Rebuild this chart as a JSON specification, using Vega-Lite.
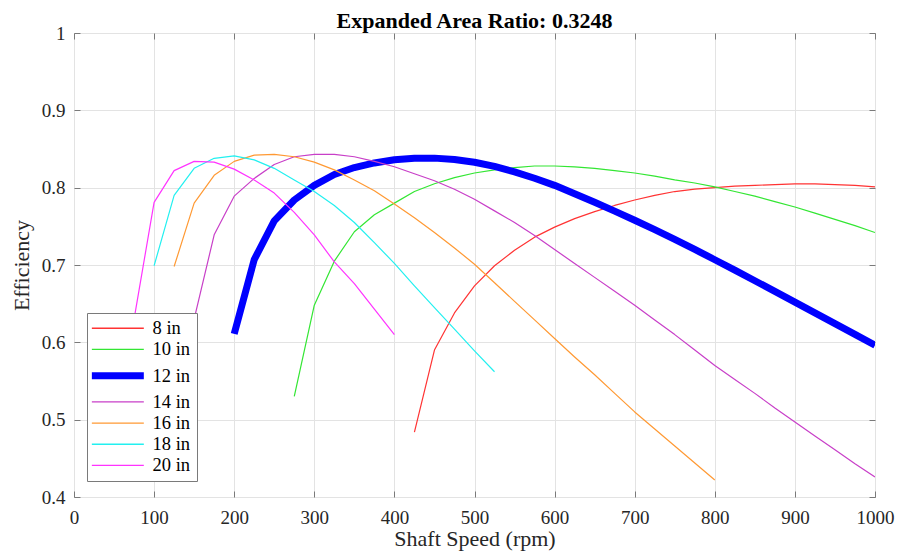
{
  "$schema": "https://vega.github.io/schema/vega-lite/v6.json",
  "width": 801,
  "height": 464,
  "autosize": {"type": "none"},
  "padding": {"left": 74, "top": 33, "right": 23, "bottom": 59},
  "background": "white",
  "config": {
    "font": "Liberation Serif",
    "view": {"stroke": "#7a7a7a", "strokeWidth": 1},
    "axis": {
      "labelFont": "Liberation Serif",
      "titleFont": "Liberation Serif",
      "labelFontSize": 19,
      "titleFontSize": 22,
      "labelColor": "#262626",
      "titleColor": "#262626",
      "titleFontWeight": "normal",
      "gridColor": "#e3e3e3",
      "gridWidth": 1,
      "tickColor": "#7a7a7a",
      "domain": false
    }
  },
  "title": {
    "text": "Expanded Area Ratio: 0.3248",
    "font": "Liberation Serif",
    "fontSize": 22,
    "fontWeight": "bold",
    "color": "#000000",
    "anchor": "middle",
    "offset": -9
  },
  "data": {
    "values": [
      {"d": "8 in", "rpm": 425, "eff": 0.484},
      {"d": "8 in", "rpm": 450, "eff": 0.590},
      {"d": "8 in", "rpm": 475, "eff": 0.638},
      {"d": "8 in", "rpm": 500, "eff": 0.673},
      {"d": "8 in", "rpm": 525, "eff": 0.699},
      {"d": "8 in", "rpm": 550, "eff": 0.719},
      {"d": "8 in", "rpm": 575, "eff": 0.736},
      {"d": "8 in", "rpm": 600, "eff": 0.749},
      {"d": "8 in", "rpm": 625, "eff": 0.760},
      {"d": "8 in", "rpm": 650, "eff": 0.769},
      {"d": "8 in", "rpm": 675, "eff": 0.777},
      {"d": "8 in", "rpm": 700, "eff": 0.784},
      {"d": "8 in", "rpm": 725, "eff": 0.790},
      {"d": "8 in", "rpm": 750, "eff": 0.795},
      {"d": "8 in", "rpm": 775, "eff": 0.798},
      {"d": "8 in", "rpm": 800, "eff": 0.800},
      {"d": "8 in", "rpm": 825, "eff": 0.802},
      {"d": "8 in", "rpm": 850, "eff": 0.803},
      {"d": "8 in", "rpm": 875, "eff": 0.804},
      {"d": "8 in", "rpm": 900, "eff": 0.805},
      {"d": "8 in", "rpm": 925, "eff": 0.805},
      {"d": "8 in", "rpm": 950, "eff": 0.804},
      {"d": "8 in", "rpm": 975, "eff": 0.803},
      {"d": "8 in", "rpm": 1000, "eff": 0.801},
      {"d": "10 in", "rpm": 275, "eff": 0.530},
      {"d": "10 in", "rpm": 300, "eff": 0.648},
      {"d": "10 in", "rpm": 325, "eff": 0.705},
      {"d": "10 in", "rpm": 350, "eff": 0.743},
      {"d": "10 in", "rpm": 375, "eff": 0.765},
      {"d": "10 in", "rpm": 400, "eff": 0.780},
      {"d": "10 in", "rpm": 425, "eff": 0.795},
      {"d": "10 in", "rpm": 450, "eff": 0.805},
      {"d": "10 in", "rpm": 475, "eff": 0.813},
      {"d": "10 in", "rpm": 500, "eff": 0.819},
      {"d": "10 in", "rpm": 525, "eff": 0.823},
      {"d": "10 in", "rpm": 550, "eff": 0.826},
      {"d": "10 in", "rpm": 575, "eff": 0.828},
      {"d": "10 in", "rpm": 600, "eff": 0.828},
      {"d": "10 in", "rpm": 625, "eff": 0.827},
      {"d": "10 in", "rpm": 650, "eff": 0.825},
      {"d": "10 in", "rpm": 675, "eff": 0.822},
      {"d": "10 in", "rpm": 700, "eff": 0.819},
      {"d": "10 in", "rpm": 725, "eff": 0.815},
      {"d": "10 in", "rpm": 750, "eff": 0.810},
      {"d": "10 in", "rpm": 775, "eff": 0.806},
      {"d": "10 in", "rpm": 800, "eff": 0.801},
      {"d": "10 in", "rpm": 825, "eff": 0.795},
      {"d": "10 in", "rpm": 850, "eff": 0.789},
      {"d": "10 in", "rpm": 875, "eff": 0.782},
      {"d": "10 in", "rpm": 900, "eff": 0.775},
      {"d": "10 in", "rpm": 925, "eff": 0.767},
      {"d": "10 in", "rpm": 950, "eff": 0.759},
      {"d": "10 in", "rpm": 975, "eff": 0.751},
      {"d": "10 in", "rpm": 1000, "eff": 0.742},
      {"d": "12 in", "rpm": 200, "eff": 0.611},
      {"d": "12 in", "rpm": 225, "eff": 0.707},
      {"d": "12 in", "rpm": 250, "eff": 0.757},
      {"d": "12 in", "rpm": 275, "eff": 0.784},
      {"d": "12 in", "rpm": 300, "eff": 0.803},
      {"d": "12 in", "rpm": 325, "eff": 0.817},
      {"d": "12 in", "rpm": 350, "eff": 0.826},
      {"d": "12 in", "rpm": 375, "eff": 0.832},
      {"d": "12 in", "rpm": 400, "eff": 0.836},
      {"d": "12 in", "rpm": 425, "eff": 0.838},
      {"d": "12 in", "rpm": 450, "eff": 0.8382},
      {"d": "12 in", "rpm": 475, "eff": 0.8364},
      {"d": "12 in", "rpm": 500, "eff": 0.8328},
      {"d": "12 in", "rpm": 525, "eff": 0.8275},
      {"d": "12 in", "rpm": 550, "eff": 0.8205},
      {"d": "12 in", "rpm": 575, "eff": 0.8122},
      {"d": "12 in", "rpm": 600, "eff": 0.8030},
      {"d": "12 in", "rpm": 625, "eff": 0.7922},
      {"d": "12 in", "rpm": 650, "eff": 0.7811},
      {"d": "12 in", "rpm": 675, "eff": 0.7697},
      {"d": "12 in", "rpm": 700, "eff": 0.7579},
      {"d": "12 in", "rpm": 725, "eff": 0.7457},
      {"d": "12 in", "rpm": 750, "eff": 0.7331},
      {"d": "12 in", "rpm": 775, "eff": 0.7201},
      {"d": "12 in", "rpm": 800, "eff": 0.7068},
      {"d": "12 in", "rpm": 825, "eff": 0.6933},
      {"d": "12 in", "rpm": 850, "eff": 0.6796},
      {"d": "12 in", "rpm": 875, "eff": 0.6658},
      {"d": "12 in", "rpm": 900, "eff": 0.6519},
      {"d": "12 in", "rpm": 925, "eff": 0.6380},
      {"d": "12 in", "rpm": 950, "eff": 0.6241},
      {"d": "12 in", "rpm": 975, "eff": 0.6102},
      {"d": "12 in", "rpm": 1000, "eff": 0.5963},
      {"d": "14 in", "rpm": 150, "eff": 0.630},
      {"d": "14 in", "rpm": 175, "eff": 0.739},
      {"d": "14 in", "rpm": 200, "eff": 0.789},
      {"d": "14 in", "rpm": 225, "eff": 0.812},
      {"d": "14 in", "rpm": 250, "eff": 0.830},
      {"d": "14 in", "rpm": 275, "eff": 0.840},
      {"d": "14 in", "rpm": 300, "eff": 0.843},
      {"d": "14 in", "rpm": 325, "eff": 0.843},
      {"d": "14 in", "rpm": 350, "eff": 0.840},
      {"d": "14 in", "rpm": 375, "eff": 0.834},
      {"d": "14 in", "rpm": 400, "eff": 0.827},
      {"d": "14 in", "rpm": 425, "eff": 0.818},
      {"d": "14 in", "rpm": 450, "eff": 0.809},
      {"d": "14 in", "rpm": 475, "eff": 0.798},
      {"d": "14 in", "rpm": 500, "eff": 0.785},
      {"d": "14 in", "rpm": 525, "eff": 0.770},
      {"d": "14 in", "rpm": 550, "eff": 0.755},
      {"d": "14 in", "rpm": 575, "eff": 0.738},
      {"d": "14 in", "rpm": 600, "eff": 0.720},
      {"d": "14 in", "rpm": 625, "eff": 0.702},
      {"d": "14 in", "rpm": 650, "eff": 0.684},
      {"d": "14 in", "rpm": 675, "eff": 0.666},
      {"d": "14 in", "rpm": 700, "eff": 0.648},
      {"d": "14 in", "rpm": 725, "eff": 0.629},
      {"d": "14 in", "rpm": 750, "eff": 0.610},
      {"d": "14 in", "rpm": 775, "eff": 0.590},
      {"d": "14 in", "rpm": 800, "eff": 0.570},
      {"d": "14 in", "rpm": 825, "eff": 0.552},
      {"d": "14 in", "rpm": 850, "eff": 0.534},
      {"d": "14 in", "rpm": 875, "eff": 0.515},
      {"d": "14 in", "rpm": 900, "eff": 0.497},
      {"d": "14 in", "rpm": 925, "eff": 0.479},
      {"d": "14 in", "rpm": 950, "eff": 0.461},
      {"d": "14 in", "rpm": 975, "eff": 0.443},
      {"d": "14 in", "rpm": 1000, "eff": 0.426},
      {"d": "16 in", "rpm": 125, "eff": 0.698},
      {"d": "16 in", "rpm": 150, "eff": 0.780},
      {"d": "16 in", "rpm": 175, "eff": 0.816},
      {"d": "16 in", "rpm": 200, "eff": 0.834},
      {"d": "16 in", "rpm": 225, "eff": 0.842},
      {"d": "16 in", "rpm": 250, "eff": 0.843},
      {"d": "16 in", "rpm": 275, "eff": 0.840},
      {"d": "16 in", "rpm": 300, "eff": 0.833},
      {"d": "16 in", "rpm": 325, "eff": 0.823},
      {"d": "16 in", "rpm": 350, "eff": 0.810},
      {"d": "16 in", "rpm": 375, "eff": 0.796},
      {"d": "16 in", "rpm": 400, "eff": 0.779},
      {"d": "16 in", "rpm": 425, "eff": 0.761},
      {"d": "16 in", "rpm": 450, "eff": 0.742},
      {"d": "16 in", "rpm": 475, "eff": 0.722},
      {"d": "16 in", "rpm": 500, "eff": 0.701},
      {"d": "16 in", "rpm": 525, "eff": 0.677},
      {"d": "16 in", "rpm": 550, "eff": 0.653},
      {"d": "16 in", "rpm": 575, "eff": 0.629},
      {"d": "16 in", "rpm": 600, "eff": 0.605},
      {"d": "16 in", "rpm": 625, "eff": 0.581},
      {"d": "16 in", "rpm": 650, "eff": 0.558},
      {"d": "16 in", "rpm": 675, "eff": 0.534},
      {"d": "16 in", "rpm": 700, "eff": 0.510},
      {"d": "16 in", "rpm": 725, "eff": 0.488},
      {"d": "16 in", "rpm": 750, "eff": 0.466},
      {"d": "16 in", "rpm": 775, "eff": 0.444},
      {"d": "16 in", "rpm": 800, "eff": 0.422},
      {"d": "18 in", "rpm": 100, "eff": 0.699},
      {"d": "18 in", "rpm": 125, "eff": 0.790},
      {"d": "18 in", "rpm": 150, "eff": 0.825},
      {"d": "18 in", "rpm": 175, "eff": 0.838},
      {"d": "18 in", "rpm": 200, "eff": 0.841},
      {"d": "18 in", "rpm": 225, "eff": 0.836},
      {"d": "18 in", "rpm": 250, "eff": 0.825},
      {"d": "18 in", "rpm": 275, "eff": 0.810},
      {"d": "18 in", "rpm": 300, "eff": 0.795},
      {"d": "18 in", "rpm": 325, "eff": 0.777},
      {"d": "18 in", "rpm": 350, "eff": 0.755},
      {"d": "18 in", "rpm": 375, "eff": 0.729},
      {"d": "18 in", "rpm": 400, "eff": 0.702},
      {"d": "18 in", "rpm": 425, "eff": 0.673},
      {"d": "18 in", "rpm": 450, "eff": 0.645},
      {"d": "18 in", "rpm": 475, "eff": 0.617},
      {"d": "18 in", "rpm": 500, "eff": 0.589},
      {"d": "18 in", "rpm": 525, "eff": 0.562},
      {"d": "20 in", "rpm": 75, "eff": 0.630},
      {"d": "20 in", "rpm": 100, "eff": 0.781},
      {"d": "20 in", "rpm": 125, "eff": 0.822},
      {"d": "20 in", "rpm": 150, "eff": 0.834},
      {"d": "20 in", "rpm": 175, "eff": 0.833},
      {"d": "20 in", "rpm": 200, "eff": 0.824},
      {"d": "20 in", "rpm": 225, "eff": 0.810},
      {"d": "20 in", "rpm": 250, "eff": 0.793},
      {"d": "20 in", "rpm": 275, "eff": 0.768},
      {"d": "20 in", "rpm": 300, "eff": 0.739},
      {"d": "20 in", "rpm": 325, "eff": 0.704},
      {"d": "20 in", "rpm": 350, "eff": 0.676},
      {"d": "20 in", "rpm": 375, "eff": 0.643},
      {"d": "20 in", "rpm": 400, "eff": 0.610}
    ]
  },
  "layer": [
    {
      "mark": {"type": "line", "clip": true, "strokeJoin": "round"},
      "encoding": {
        "x": {
          "field": "rpm", "type": "quantitative",
          "scale": {"domain": [0, 1000], "nice": false, "zero": false},
          "axis": {
            "title": "Shaft Speed (rpm)",
            "values": [0, 100, 200, 300, 400, 500, 600, 700, 800, 900, 1000],
            "format": "d",
            "tickSize": -6,
            "labelPadding": 17,
            "titlePadding": 1,
            "labelFlush": false,
            "labelOverlap": false
          }
        },
        "y": {
          "field": "eff", "type": "quantitative",
          "scale": {"domain": [0.4, 1], "nice": false, "zero": false},
          "axis": {
            "title": "Efficiency",
            "values": [0.4, 0.5, 0.6, 0.7, 0.8, 0.9, 1],
            "format": "~g",
            "tickSize": -6,
            "labelPadding": 15,
            "titlePadding": 8,
            "labelFlush": false,
            "labelOverlap": false
          }
        },
        "color": {
          "field": "d", "type": "nominal",
          "scale": {
            "domain": ["8 in", "10 in", "12 in", "14 in", "16 in", "18 in", "20 in"],
            "range": ["#ff3333", "#33e633", "#0000ff", "#c83fc8", "#ff9933", "#22f0f0", "#ff33ff"]
          },
          "legend": {
            "title": null,
            "orient": "none",
            "legendX": 13,
            "legendY": 280,
            "fillColor": "white",
            "strokeColor": "#7a7a7a",
            "padding": 6,
            "symbolType": "M-1,0H4",
            "symbolSize": 432,
            "symbolFillColor": "transparent",
            "rowPadding": 2.2,
            "labelFont": "Liberation Serif",
            "labelFontSize": 18.5,
            "labelColor": "#000000",
            "labelOffset": 41,
            "encode": {
              "symbols": {
                "update": {
                  "strokeWidth": {"signal": "datum.value === '12 in' ? 7 : 1.3"}
                }
              }
            }
          }
        },
        "strokeWidth": {
          "condition": {"test": "datum.d === '12 in'", "value": 7},
          "value": 1.2
        }
      }
    },
    {
      "mark": {"type": "point", "opacity": 0},
      "encoding": {
        "x": {
          "field": "rpm", "type": "quantitative",
          "axis": {"orient": "top", "labels": false, "title": null, "grid": false, "tickSize": -6,
                   "values": [0, 100, 200, 300, 400, 500, 600, 700, 800, 900, 1000]}
        },
        "y": {
          "field": "eff", "type": "quantitative",
          "axis": {"orient": "right", "labels": false, "title": null, "grid": false, "tickSize": -6,
                   "values": [0.4, 0.5, 0.6, 0.7, 0.8, 0.9, 1]}
        }
      }
    }
  ],
  "resolve": {"axis": {"x": "independent", "y": "independent"}}
}
